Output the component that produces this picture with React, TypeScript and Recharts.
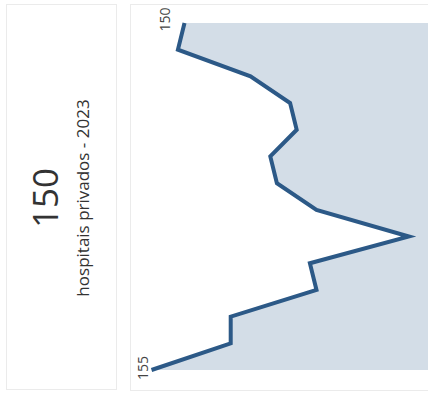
import React from 'react';
import { AreaChart, Area, XAxis, YAxis, LabelList } from 'recharts';

const years = ['2010', '2011', '2012', '2013', '2014', '2015', '2016', '2017', '2018', '2019', '2020', '2021', '2022', '2023'];
const hospitals = [155, 143, 143, 130, 131, 116, 130, 136, 137, 133, 134, 140, 151, 150];
const kpiValue = '150';
const kpiLabel = 'hospitais privados - 2023';

const data = years.map((year, i) => ({ year, value: hospitals[i] }));

const LINE = '#2c5987';
const FILL = '#d3dde7';
const FONT = '"Open Sans", "Noto Sans", sans-serif';

const renderLabel = (props: any) => {
  const vb = props.viewBox || {};
  const x = props.x ?? vb.x;
  const y = props.y ?? vb.y;
  let idx = props.index;
  if (idx === undefined) {
    idx = props.value === hospitals[0] ? 0 : props.value === hospitals[hospitals.length - 1] ? hospitals.length - 1 : -1;
  }
  if (idx !== 0 && idx !== hospitals.length - 1) return null;
  const dx = idx === 0 ? -3.5 : -15;
  const dy = idx === 0 ? -2 : -3.5;
  return (
    <text
      transform={`translate(${x + dx},${y + dy}) rotate(-90)`}
      textAnchor="middle"
      fontSize={14}
      fontFamily={FONT}
      fill="#444"
    >
      {props.value}
    </text>
  );
};

export default function App() {
  return (
    <div
      style={{
        position: 'fixed',
        left: 0,
        top: 0,
        width: 428,
        height: 394,
        overflow: 'hidden',
        background: '#fff',
        fontFamily: FONT,
      }}
    >
      <div
        style={{
          position: 'absolute',
          left: 6,
          top: 4,
          width: 111,
          height: 386,
          border: '1px solid #ebebeb',
          boxSizing: 'border-box',
        }}
      />
      <svg style={{ position: 'absolute', left: 0, top: 0 }} width={130} height={394}>
        <text
          transform="translate(57.5,198) rotate(-90)"
          textAnchor="middle"
          fontSize={35}
          fontFamily={FONT}
          fill="#333"
        >
          {kpiValue}
        </text>
        <text
          transform="translate(89,198) rotate(-90)"
          textAnchor="middle"
          fontSize={17}
          fontFamily={FONT}
          fill="#333"
        >
          {kpiLabel}
        </text>
      </svg>
      <div
        style={{
          position: 'absolute',
          left: 130,
          top: 4,
          width: 320,
          height: 387,
          border: '1px solid #ebebeb',
          boxSizing: 'border-box',
        }}
      />
      <div style={{ position: 'absolute', left: 130, top: 4 }}>
        <AreaChart
          width={300}
          height={386}
          data={data}
          layout="vertical"
          margin={{ top: 19, right: 0, bottom: 20, left: 0 }}
        >
          <XAxis
            type="number"
            dataKey="value"
            domain={[112.8, 158.26]}
            reversed
            allowDataOverflow
            hide
          />
          <YAxis type="category" dataKey="year" scale="point" reversed hide />
          <Area
            type="linear"
            dataKey="value"
            stroke={LINE}
            strokeWidth={4}
            fill={FILL}
            fillOpacity={1}
            baseValue="dataMin"
            isAnimationActive={false}
            dot={false}
            activeDot={false}
          >
            <LabelList dataKey="value" content={renderLabel} />
          </Area>
        </AreaChart>
      </div>
    </div>
  );
}
